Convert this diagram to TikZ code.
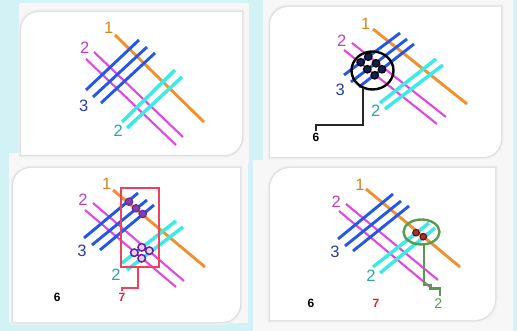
\documentclass[tikz,border=0pt]{standalone}
\usepackage{fontspec}
\setmainfont{Liberation Sans}
\usetikzlibrary{shapes.geometric}
\definecolor{bgcyan}{HTML}{D3F2F6}
\definecolor{offw}{HTML}{F7F7F7}
\definecolor{orng}{HTML}{F0902E}
\definecolor{orlab}{HTML}{D8841E}
\definecolor{bluL}{HTML}{2457E6}
\definecolor{bluLab}{HTML}{2A3CA8}
\definecolor{magL}{HTML}{E048E0}
\definecolor{magLab}{HTML}{C040C0}
\definecolor{cyL}{HTML}{3EEAE6}
\definecolor{tealLab}{HTML}{2AA8A0}
\definecolor{redL}{HTML}{F0405E}
\definecolor{redLab}{HTML}{E0203E}
\definecolor{grnL}{HTML}{5A9A50}
\definecolor{purp}{HTML}{6A1E9E}
\definecolor{dkred}{HTML}{8A1010}
\newcommand\mypanel[5]{%
  \draw[gray!12,line width=5pt] (#1,#4) -- (#1,#2+#5) .. controls (#1,#2+0.448*#5) and (#1+0.448*#5,#2) .. (#1+#5,#2) -- (#3,#2) -- (#3,#4-#5) .. controls (#3,#4-0.448*#5) and (#3-0.448*#5,#4) .. (#3-#5,#4) -- cycle;
  \draw[gray!25,line width=2.5pt] (#1,#4) -- (#1,#2+#5) .. controls (#1,#2+0.448*#5) and (#1+0.448*#5,#2) .. (#1+#5,#2) -- (#3,#2) -- (#3,#4-#5) .. controls (#3,#4-0.448*#5) and (#3-0.448*#5,#4) .. (#3-#5,#4) -- cycle;
  \fill[white] (#1,#4) -- (#1,#2+#5) .. controls (#1,#2+0.448*#5) and (#1+0.448*#5,#2) .. (#1+#5,#2) -- (#3,#2) -- (#3,#4-#5) .. controls (#3,#4-0.448*#5) and (#3-0.448*#5,#4) .. (#3-#5,#4) -- cycle;}
\tikzset{
  orline/.style={orng,line width=2.9pt},
  bline/.style={bluL,line width=2.9pt},
  mline/.style={magL,line width=2.1pt},
  cline/.style={cyL,line width=3.5pt},
  lab/.style={inner sep=0pt,font=\fontsize{16.5}{16.5}\selectfont},
  lone/.style={lab,text=orlab},
  ltwo/.style={lab,text=magLab},
  lthree/.style={lab,text=bluLab},
  lteal/.style={lab,text=tealLab},
  small/.style={inner sep=0pt,font=\bfseries\fontsize{12}{12}\selectfont},
  bdot/.style={circle,draw=black,fill=bluLab!50!black,line width=1.2pt,minimum size=7.5pt,inner sep=0pt},
  pdot/.style={circle,draw=purp,fill=purp!85,line width=1pt,minimum size=7.5pt,inner sep=0pt},
  pring/.style={circle,draw=purp,fill=purp!20,line width=1.5pt,minimum size=7.5pt,inner sep=0pt},
  rdot/.style={circle,draw=dkred!80!black,fill=dkred!85,line width=1.2pt,minimum size=6.5pt,inner sep=0pt}
}
\begin{document}
\begin{tikzpicture}[x=1pt,y=-1pt]
\useasboundingbox (0,0) rectangle (517,331);
\fill[bgcyan] (0,0) rectangle (517,331);
% outer off-white boards
\fill[offw] (19,3) rectangle (249,163);
\fill[offw] (263,0) rectangle (513,160);
\fill[offw] (9,153) rectangle (248,323);
\fill[offw] (253,160) rectangle (513,331);
% inner panels
\mypanel{21}{12}{242}{155}{18}
\mypanel{270}{7}{501}{157}{18}
\mypanel{13}{168}{240}{322}{18}
\mypanel{270}{168}{495}{320}{20}

% ---------------- Panel 1 ----------------
\draw[mline] (94,52) -- (183,137);
\draw[mline] (86,59) -- (176,145);
\draw[orline] (115,35) -- (204,122);
\draw[bline] (86,90) -- (139,40);
\draw[bline] (93,97) -- (147,47);
\draw[bline] (101,103) -- (155,53);
\draw[cline] (122,122) -- (175,70);
\draw[cline] (127,128) -- (182,77);
\node[lone] (p1one) at (108.7,28) {1};
\node[ltwo] (p1two) at (84.7,47.3) {2};
\node[lthree] (p1three) at (83.7,106) {3};
\node[lteal] (p1teal) at (118.3,130.7) {2};

% ---------------- Panel 2 ----------------
\draw[mline] (352,43) -- (446,117);
\draw[mline] (344,50) -- (437,124);
\draw[orline] (373,29) -- (467,104);
\draw[bline] (344,75) -- (400,33);
\draw[bline] (351,82) -- (407,39);
\draw[bline] (359,87) -- (414,44);
\draw[cline] (380,103) -- (436,59);
\draw[cline] (385,109) -- (443,65);
\node[lone] (p2one) at (365.7,23.7) {1};
\node[ltwo] (p2two) at (341.7,40.3) {2};
\node[lthree] (p2three) at (340.3,89.7) {3};
\node[lteal] (p2teal) at (375.7,110.7) {2};
\node[draw=black,line width=2.4pt,ellipse,minimum width=42pt,minimum height=38pt,inner sep=0pt] (p2circ) at (372.5,70.5) {};
\node[bdot] (d1) at (360.7,62.3) {};
\node[bdot] (d2) at (368.3,56.7) {};
\node[bdot] (d3) at (376,63.3) {};
\node[bdot] (d4) at (367.3,69.3) {};
\node[bdot] (d5) at (374.7,75.3) {};
\node[bdot] (d6) at (382,69.3) {};
\node[small] (p2six) at (316,137.7) {6};
\coordinate (w2a) at (362.7,88);
\draw[black!85,line width=2.2pt] (w2a) -- (362.7,125) -- (316,125) -- (316,131);

% ---------------- Panel 3 ----------------
\draw[mline] (93,203) -- (184,281);
\draw[mline] (85,210) -- (176,287);
\draw[orline] (113,190) -- (205,267);
\draw[bline] (84,238) -- (138,193);
\draw[bline] (92,245) -- (147,200);
\draw[bline] (100,250) -- (154,205);
\draw[cline] (122,263) -- (176,221);
\draw[cline] (127,270) -- (183,227);
\node[lone] (p3one) at (106.7,184.3) {1};
\node[ltwo] (p3two) at (83,200) {2};
\node[lthree] (p3three) at (82,251) {3};
\node[lteal] (p3teal) at (116,274.3) {2};
\draw[redL,line width=2.2pt] (120.7,188.3) rectangle (159,266.7);
\node[pdot] (e1) at (129,201.7) {};
\node[pdot] (e2) at (136,208.3) {};
\node[pdot] (e3) at (142.7,214) {};
\node[pring] (e4) at (134.3,252.7) {};
\node[pring] (e5) at (141.7,247.3) {};
\node[pring] (e6) at (149.3,250.7) {};
\node[pring] (e7) at (141.7,258.3) {};
\node[small] (p3six) at (57.3,297) {6};
\node[small,text=redLab] (p3seven) at (122,297.3) {7};
\draw[redL,line width=2.2pt] (138.3,266.7) -- (138.3,288.3) -- (121.7,288.3) -- (121.7,291.5);

% ---------------- Panel 4 ----------------
\draw[mline] (346,204) -- (438,280);
\draw[mline] (339,211) -- (430,287);
\draw[orline] (366,189) -- (460,267);
\draw[bline] (338,239) -- (393,194);
\draw[bline] (345,246) -- (401,201);
\draw[bline] (353,251) -- (409,206);
\draw[cline] (373,267) -- (429,223);
\draw[cline] (380,273) -- (435,228);
\node[lone] (p4one) at (360,185) {1};
\node[ltwo] (p4two) at (336.3,202) {2};
\node[lthree] (p4three) at (335,252) {3};
\node[lteal] (p4teal) at (371,275.3) {2};
\node[draw=grnL,line width=2.4pt,ellipse,minimum width=36pt,minimum height=25pt,inner sep=0pt] (p4circ) at (421.5,232) {};
\node[rdot] (f1) at (416,232.7) {};
\node[rdot] (f2) at (423.3,236.7) {};
\node[small] (p4six) at (311,303.7) {6};
\node[small,text=redLab] (p4seven) at (376,303.7) {7};
\node[lab,text=grnL,font=\fontsize{14}{14}\selectfont] (p4green) at (438.3,303.7) {2};
\draw[grnL,line width=2.2pt] (424.3,244.5) -- (424.3,285) -- (430.5,285) -- (430.5,288.5) -- (440,288.5) -- (440,296);
\end{tikzpicture}
\end{document}
